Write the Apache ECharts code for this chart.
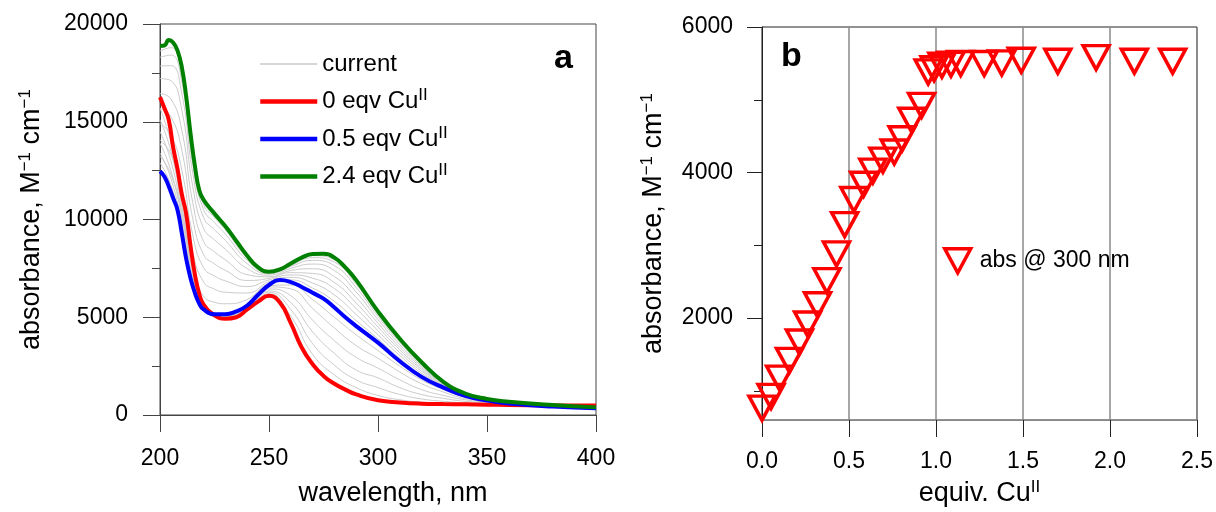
<!DOCTYPE html>
<html>
<head>
<meta charset="utf-8">
<script src="https://cdn.jsdelivr.net/npm/echarts@6/dist/echarts.min.js"></script>
<style>
  html, body { margin: 0; padding: 0; background: #fff; }
  #chart { width: 1216px; height: 512px; }
</style>
</head>
<body>
<div id="chart"></div>
<script>
// panel a: spectra (wavelength nm -> absorbance M-1 cm-1)
const wlFine = [200, 202, 204, 206, 208, 210, 212, 214, 216, 218, 220, 225, 230, 235, 240, 245, 250, 255, 260, 265, 270, 275, 280, 285, 290, 300, 310, 320, 330, 340, 350, 360, 380, 400];
const absCu0 = [16260, 15700, 15100, 13700, 12600, 11300, 10300, 8640, 7200, 6200, 5650, 5100, 4920, 5000, 5400, 5800, 6100, 5750, 4700, 3450, 2600, 2000, 1600, 1300, 1050, 750, 640, 580, 560, 545, 530, 515, 495, 480];
const absCu05 = [12470, 12200, 11700, 11100, 10500, 9300, 8000, 7000, 6250, 5700, 5400, 5150, 5150, 5300, 5600, 6150, 6650, 6900, 6800, 6550, 6250, 5950, 5500, 5000, 4550, 3700, 2750, 1950, 1400, 980, 740, 590, 430, 340];
const absCu24 = [18880, 18900, 19180, 19050, 18650, 17800, 16300, 14400, 12750, 11500, 11000, 10300, 9650, 8900, 8150, 7550, 7330, 7450, 7750, 8050, 8230, 8250, 8050, 7550, 6900, 5300, 3900, 2700, 1700, 1100, 820, 680, 510, 390];

// intermediate ("current") spectra, read on a coarser grid
const wlCoarse = [200, 205, 210, 215, 220, 225, 230, 240, 250, 260, 270, 280, 290, 300, 310, 320, 330, 340, 360, 400];
const grayToHalf = [
  [15700, 13950, 11000, 7700, 5620, 5100, 4950, 5420, 6200, 5050, 3100, 2050, 1400, 1000, 780, 660, 600, 570, 525, 470],
  [15100, 13500, 10700, 7500, 5580, 5110, 4980, 5450, 6280, 5400, 3650, 2550, 1800, 1400, 1050, 820, 700, 620, 540, 450],
  [14500, 13000, 10400, 7300, 5550, 5120, 5020, 5480, 6350, 5750, 4250, 3150, 2300, 1900, 1400, 1050, 850, 700, 550, 430],
  [13900, 12500, 10100, 7100, 5500, 5130, 5060, 5520, 6450, 6100, 4850, 3800, 2950, 2400, 1800, 1300, 1000, 780, 560, 400],
  [13400, 12100, 9800, 6900, 5460, 5140, 5100, 5560, 6550, 6450, 5450, 4450, 3550, 2900, 2200, 1600, 1180, 850, 575, 380],
  [12900, 11750, 9550, 6750, 5430, 5150, 5130, 5580, 6600, 6650, 5900, 5000, 4100, 3300, 2500, 1800, 1300, 920, 585, 360]
];
const grayToFull = [
  [13240, 12320, 10320, 7430, 6070, 5770, 5690, 5910, 6730, 6910, 6490, 5810, 4830, 3890, 2890, 2040, 1440, 990, 600, 345],
  [14070, 13330, 11430, 8330, 6800, 6440, 6280, 6240, 6820, 7040, 6750, 6140, 5140, 4100, 3040, 2140, 1480, 1010, 610, 352],
  [14900, 14330, 12530, 9220, 7530, 7110, 6860, 6570, 6910, 7160, 7000, 6470, 5440, 4310, 3190, 2240, 1510, 1025, 625, 360],
  [15680, 15250, 13550, 10050, 8200, 7730, 7400, 6880, 6990, 7280, 7240, 6780, 5730, 4500, 3330, 2330, 1550, 1040, 635, 365],
  [16440, 16170, 14570, 10880, 8870, 8340, 7940, 7180, 7070, 7390, 7480, 7080, 6010, 4690, 3460, 2420, 1590, 1055, 645, 370],
  [17210, 17100, 15590, 11710, 9540, 8960, 8480, 7490, 7150, 7500, 7720, 7390, 6290, 4880, 3600, 2500, 1620, 1070, 655, 377],
  [17850, 17870, 16440, 12400, 10100, 9480, 8930, 7740, 7220, 7600, 7910, 7640, 6520, 5040, 3720, 2580, 1650, 1080, 665, 382],
  [18300, 18410, 17040, 12880, 10500, 9840, 9250, 7920, 7270, 7660, 8050, 7820, 6690, 5160, 3800, 2630, 1670, 1090, 672, 385],
  [18620, 18790, 17460, 13230, 10780, 10100, 9470, 8050, 7300, 7710, 8150, 7950, 6810, 5240, 3860, 2670, 1690, 1095, 676, 388]
];

// panel b: absorbance at 300 nm vs equivalents of Cu(II)
const equivCu = [0, 0.052, 0.101, 0.158, 0.215, 0.262, 0.319, 0.373, 0.428, 0.475, 0.528, 0.584, 0.637, 0.695, 0.760, 0.805, 0.861, 0.917, 0.955, 0.989, 1.034, 1.086, 1.142, 1.277, 1.378, 1.49, 1.70, 1.92, 2.14, 2.36];
const abs300 = [763, 924, 1176, 1420, 1671, 1919, 2184, 2515, 2882, 3285, 3629, 3840, 4020, 4170, 4282, 4465, 4718, 4924, 5383, 5428, 5474, 5488, 5498, 5498, 5507, 5543, 5530, 5580, 5530, 5530];

const xTicksA = [200, 400, 50];
const yTicksA = [0, 20000, 5000];
const yLabelsB = [2000, 4000, 6000];
const yMinorB = [1000, 3000, 5000];

const FONT = 'Liberation Sans, Arial, sans-serif';
const supRich = {
  sup: { fontSize: 17, fontFamily: FONT, color: '#000', padding: [0, 0, 12, 0] }
};
const pairs = (xs, ys) => xs.map((x, i) => [x, ys[i]]);
const plain = v => String(v);

const chart = echarts.init(document.getElementById('chart'), null, { renderer: 'canvas' });

const series = [];
grayToHalf.concat(grayToFull).forEach(curve => {
  series.push({
    name: 'current', type: 'line', xAxisIndex: 0, yAxisIndex: 0,
    data: pairs(wlCoarse, curve), smooth: 0.5,
    symbol: 'none', silent: true, z: 1,
    lineStyle: { color: '#cbcbcb', width: 1 }, itemStyle: { color: '#cbcbcb' }
  });
});
[['0 eqv Cu', absCu0, '#ff0000'], ['0.5 eqv Cu', absCu05, '#0000ff'], ['2.4 eqv Cu', absCu24, '#008000']].forEach(([name, ys, color]) => {
  series.push({
    name, type: 'line', xAxisIndex: 0, yAxisIndex: 0,
    data: pairs(wlFine, ys), smooth: 0.5,
    symbol: 'none', z: 3,
    lineStyle: { color, width: 4 }, itemStyle: { color }
  });
});
series.push({
  name: 'abs @ 300 nm', type: 'scatter', xAxisIndex: 1, yAxisIndex: 1,
  data: pairs(equivCu, abs300), symbol: 'triangle', symbolRotate: 180,
  symbolSize: [26, 24], clip: false, z: 5,
  itemStyle: { color: 'rgba(255,255,255,0)', borderColor: '#ff0000', borderWidth: 3.5, opacity: 1 }
});

const tickText = { fontSize: 23, fontFamily: FONT, color: '#000' };
const titleText = { fontSize: 27, fontFamily: FONT, color: '#000' };

chart.setOption({
  animation: false,
  backgroundColor: '#fff',
  grid: [
    { left: 160, top: 24, width: 436, height: 392, show: true, borderColor: '#444', borderWidth: 1, backgroundColor: '#fff' },
    { left: 762, top: 27, width: 438, height: 393, show: true, borderColor: '#222', borderWidth: 1, backgroundColor: '#fff' }
  ],
  xAxis: [
    {
      gridIndex: 0, type: 'value', min: xTicksA[0], max: xTicksA[1], interval: xTicksA[2],
      axisLine: { lineStyle: { color: '#444' } },
      axisTick: { inside: false, length: 17, lineStyle: { color: '#444' } },
      axisLabel: Object.assign({ margin: 32, formatter: plain }, tickText),
      splitLine: { show: false },
      name: 'wavelength, nm', nameLocation: 'middle', nameGap: 65,
      nameTextStyle: Object.assign({ padding: [0, 0, 0, 30] }, titleText)
    },
    {
      gridIndex: 1, type: 'value', min: 0, max: 2.5, interval: 0.5,
      axisLine: { lineStyle: { color: '#888' } },
      axisTick: { inside: false, length: 17, lineStyle: { color: '#222' } },
      axisLabel: Object.assign({ margin: 30, formatter: v => v.toFixed(1) }, tickText),
      splitLine: { show: true, lineStyle: { color: '#8a8a8a', width: 1.5 } },
      name: 'equiv. Cu{sup|II}', nameLocation: 'middle', nameGap: 59,
      nameTextStyle: Object.assign({ rich: supRich }, titleText)
    }
  ],
  yAxis: [
    {
      gridIndex: 0, type: 'value', min: yTicksA[0], max: yTicksA[1], interval: yTicksA[2],
      axisLine: { show: true, lineStyle: { color: '#444' } },
      axisTick: { show: true, inside: false, length: 17, lineStyle: { color: '#444' } },
      minorTick: { show: true, splitNumber: 2, length: 8, lineStyle: { color: '#444' } },
      axisLabel: Object.assign({ margin: 32, formatter: plain }, tickText),
      splitLine: { show: false },
      name: 'absorbance, M{sup|−1} cm{sup|−1}', nameLocation: 'middle', nameGap: 114,
      nameTextStyle: Object.assign({ rich: supRich }, titleText)
    },
    {
      gridIndex: 1, type: 'value', position: 'left', min: 600, max: 6000,
      axisLine: { show: true, lineStyle: { color: '#222' } },
      axisTick: { show: true, inside: false, length: 15, customValues: yLabelsB, lineStyle: { color: '#222' } },
      axisLabel: Object.assign({ margin: 29, customValues: yLabelsB, formatter: plain }, tickText),
      splitLine: { show: false },
      name: 'absorbance, M{sup|−1} cm{sup|−1}', nameLocation: 'middle', nameGap: 94,
      nameTextStyle: Object.assign({ rich: supRich }, titleText)
    },
    {
      gridIndex: 1, type: 'value', position: 'left', offset: 0, min: 600, max: 6000,
      axisLine: { show: false },
      axisTick: { show: true, inside: false, length: 8, customValues: yMinorB, lineStyle: { color: '#222' } },
      axisLabel: { show: false },
      splitLine: { show: false }
    }
  ],
  legend: [
    {
      left: 253, top: 46, orient: 'vertical', itemWidth: 57, itemHeight: 14, itemGap: 10,
      data: [
        { name: 'current', lineStyle: { width: 1.5, color: '#c8c8c8' } },
        { name: '0 eqv Cu', lineStyle: { width: 4.5 } },
        { name: '0.5 eqv Cu', lineStyle: { width: 4.5 } },
        { name: '2.4 eqv Cu', lineStyle: { width: 4.5 } }
      ],
      formatter: n => n === 'current' ? n : n + '{sup|II}',
      itemStyle: { color: 'rgba(0,0,0,0)', borderColor: 'rgba(0,0,0,0)', borderWidth: 0 },
      textStyle: { fontSize: 24, fontFamily: FONT, color: '#000', lineHeight: 26, rich: supRich },
      selectedMode: false
    },
    {
      left: 938, top: 242, itemWidth: 26, itemHeight: 24,
      data: [{ name: 'abs @ 300 nm', icon: 'path://M0,0L2,0L1,1.85Z' }],
      itemStyle: { color: 'rgba(255,255,255,0)', borderColor: '#ff0000', borderWidth: 3.5 },
      textStyle: { fontSize: 23, fontFamily: FONT, color: '#000', padding: [0, 0, 0, 4] },
      selectedMode: false
    }
  ],
  graphic: [
    { type: 'text', left: 554, top: 42, style: { text: 'a', font: 'bold 34px ' + FONT, fill: '#000' } },
    { type: 'text', left: 781, top: 40, style: { text: 'b', font: 'bold 34px ' + FONT, fill: '#000' } }
  ],
  series
});
</script>
</body>
</html>
